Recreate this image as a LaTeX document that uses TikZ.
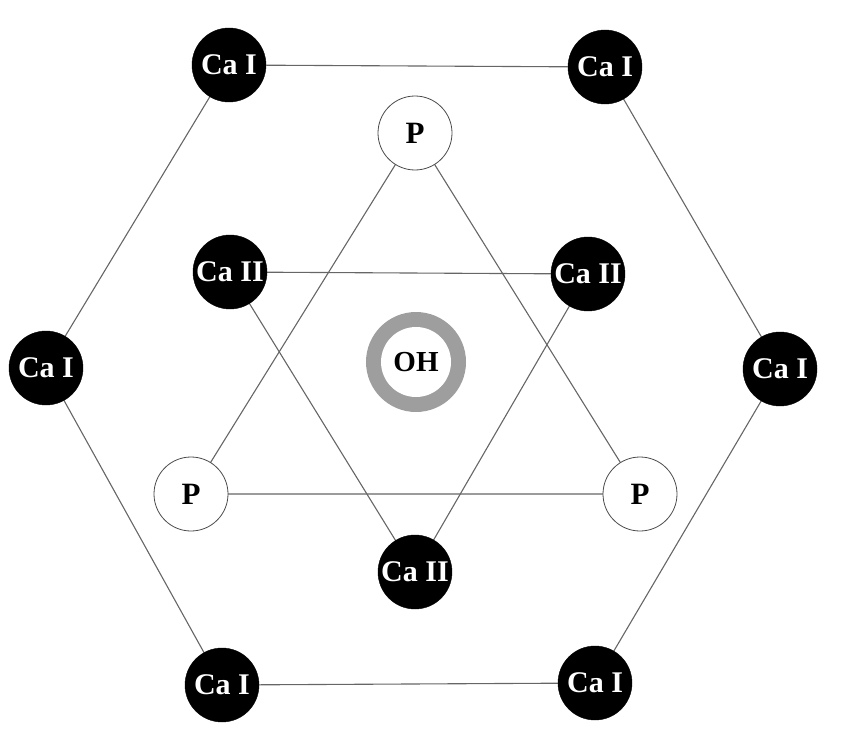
\documentclass[tikz,border=0pt]{standalone}
\usepackage{fontspec}
\setmainfont{Liberation Serif}
\begin{document}
\begin{tikzpicture}[x=1pt,y=-1pt,
  ca/.style={circle,fill=black,draw=black,minimum size=74pt,inner sep=0pt,text=white,font=\fontsize{30}{30}\selectfont\bfseries},
  ph/.style={circle,fill=white,draw=black!70,line width=0.8pt,minimum size=74pt,inner sep=0pt,text=black,font=\fontsize{31}{31}\selectfont\bfseries},
  bond/.style={draw=black!60,line width=1.1pt}]
\useasboundingbox (0,0) rectangle (842,749);
% OH ring
\fill[black!38] (416,362) circle (50);
\fill[white] (416,362) circle (35);
\node[font=\fontsize{29}{29}\selectfont\bfseries] (oh) at (416,362) {OH};
% coordinates
\coordinate (tl) at (229,65);
\coordinate (tr) at (605,67);
\coordinate (l) at (46,368);
\coordinate (r) at (780,369);
\coordinate (bl) at (222,685);
\coordinate (br) at (595,683);
\coordinate (pt) at (415,133);
\coordinate (pl) at (191,494);
\coordinate (pr) at (640,494);
\coordinate (c2l) at (230,272);
\coordinate (c2r) at (588,274);
\coordinate (c2b) at (415,572);
% bonds
\draw[bond] (tl) -- (tr) -- (r) -- (br) -- (bl) -- (l) -- cycle;
\draw[bond] (pt) -- (pl) -- (pr) -- cycle;
\draw[bond] (c2l) -- (c2r) -- (c2b) -- cycle;
% atoms
\node[ca] (ntl) at (tl) {Ca I};
\node[ca] (ntr) at (tr) {Ca I};
\node[ca] (nl) at (l) {Ca I};
\node[ca] (nr) at (r) {Ca I};
\node[ca] (nbl) at (bl) {Ca I};
\node[ca] (nbr) at (br) {Ca I};
\node[ph] (npt) at (pt) {P};
\node[ph] (npl) at (pl) {P};
\node[ph] (npr) at (pr) {P};
\node[ca] (nc2l) at (c2l) {Ca II};
\node[ca] (nc2r) at (c2r) {Ca II};
\node[ca] (nc2b) at (c2b) {Ca II};
\end{tikzpicture}
\end{document}
